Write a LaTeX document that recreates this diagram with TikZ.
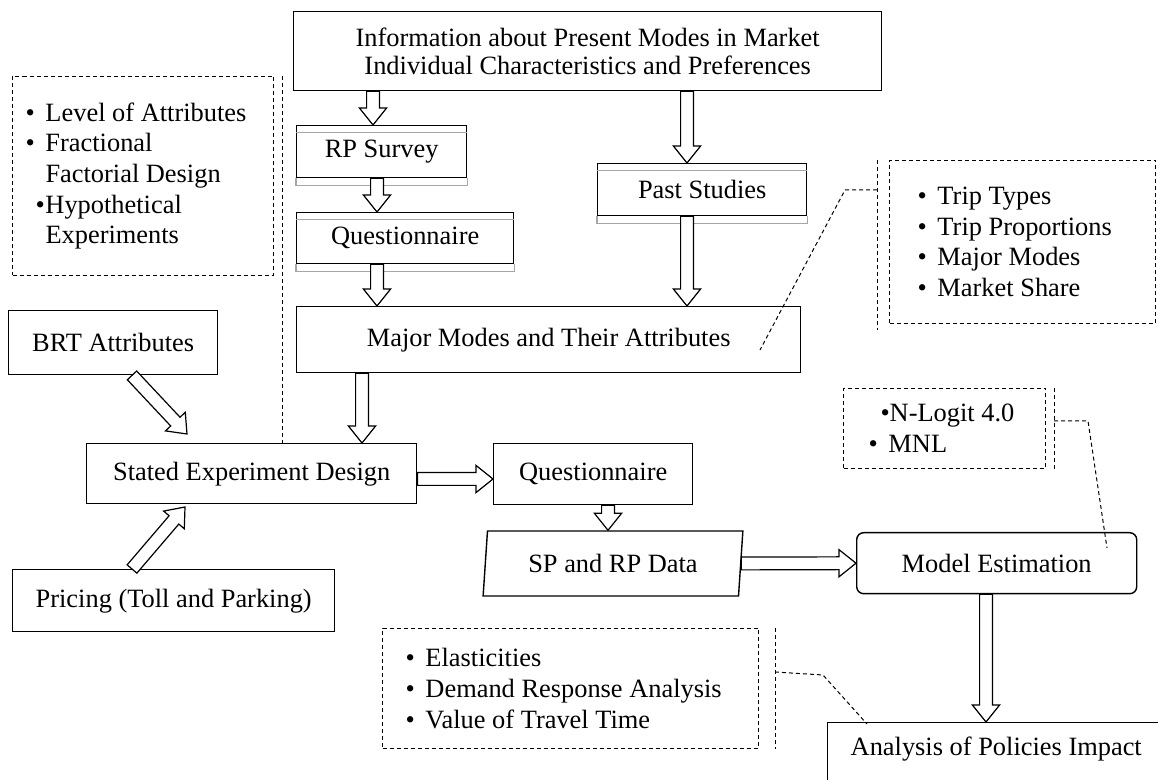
\documentclass[tikz,border=0pt]{standalone}
\usepackage{fontspec}
\setmainfont{Liberation Serif}
\usetikzlibrary{calc, shapes.geometric}
\tikzset{
  box/.style={rectangle, draw, line width=0.7pt, inner sep=0pt,
    align=center, anchor=north west},
  note/.style={rectangle, draw, dash pattern=on 2pt off 1.5pt,
    line width=0.5pt, align=left, anchor=north west, inner ysep=0pt},
  lead/.style={dash pattern=on 2pt off 1.5pt, line width=0.5pt},
  fat/.style={draw, fill=white, line width=0.6pt, line join=miter, to path={
    ($(\tikztostart)!3.2pt!90:(\tikztotarget)$)
    -- ($(\tikztotarget)!8.5pt!(\tikztostart)!3.2pt!90:(\tikztotarget)$)
    -- ($(\tikztotarget)!8.5pt!(\tikztostart)!6.8pt!90:(\tikztotarget)$)
    -- (\tikztotarget)
    -- ($(\tikztotarget)!8.5pt!(\tikztostart)!6.8pt!-90:(\tikztotarget)$)
    -- ($(\tikztotarget)!8.5pt!(\tikztostart)!3.2pt!-90:(\tikztotarget)$)
    -- ($(\tikztostart)!3.2pt!-90:(\tikztotarget)$) -- cycle}},
  every node/.append style={execute at begin node={\spaceskip=0pt\xspaceskip=0pt\relax}},
}
\newcommand{\bul}{\makebox[10pt][l]{\textbullet}}

\begin{document}
\begin{tikzpicture}[x=0.5pt, y=-0.5pt, font=\fontsize{13.2pt}{15.3pt}\selectfont]
  \useasboundingbox (0,0) rectangle (1158,780);

  % Boxes
  \node[box, minimum width=294pt, minimum height=39.5pt, font=\fontsize{13.2pt}{14pt}\selectfont] (info) at (293,11)
    {Information about Present Modes in Market\\Individual Characteristics and Preferences};
  \node[box, minimum width=85pt, minimum height=26pt] (rps) at (296,125) {RP Survey};
  \node[box, minimum width=108.5pt, minimum height=25.5pt] (qa) at (296,212) {Questionnaire};
  \node[box, minimum width=104.5pt, minimum height=26pt] (past) at (597,163) {Past Studies};
  \node[box, minimum width=252pt, minimum height=33pt] (major) at (296,306) {Major Modes and Their Attributes};
  \node[box, minimum width=104.5pt, minimum height=32pt] (brt) at (8,310) {BRT Attributes};
  \node[box, minimum width=165pt, minimum height=30pt] (sed) at (86,443) {Stated Experiment Design};
  \node[box, minimum width=99.5pt, minimum height=30.5pt] (qb) at (493,443) {Questionnaire};
  \node[box, minimum width=161pt, minimum height=31pt] (price) at (12,569) {Pricing (Toll and Parking)};
  \node[box, anchor=center, trapezium, trapezium left angle=81, trapezium right angle=99,
    trapezium stretches=true, minimum width=130pt, minimum height=32.5pt] (sprp) at (613,563.5) {SP and RP Data};
  \node[box, rounded corners=3.5pt, minimum width=140pt, minimum height=30.5pt] (model) at (856,532) {Model Estimation};
  \node[box, align=left, text width=180pt, inner xsep=11.5pt, text height=16.5pt, text depth=40pt] (anal) at (827,722)
    {Analysis of Policies Impact};

  \foreach \n in {rps,qa,past}{
    \draw[gray!70, line width=0.5pt] ([yshift=-4pt]\n.north west) -- ([yshift=-4pt]\n.north east);
    \draw[gray!70, line width=0.7pt] (\n.south west) -- ([yshift=-3.5pt]\n.south west)
      -- ([yshift=-3.5pt]\n.south east) -- (\n.south east);
  }

  % Notes
  \node[note, text width=117.5pt, inner xsep=6.5pt, minimum height=99.5pt] (lbox) at (12,76)
    {\bul Level of Attributes\\ \bul Fractional\\ \hspace*{10pt}Factorial Design\\
     \hspace*{5pt}\makebox[5pt][l]{\textbullet}Hypothetical\\ \hspace*{10pt}Experiments};
  \node[note, text width=105pt, inner xsep=14pt, minimum height=81.5pt] (trip) at (889,160)
    {\bul Trip Types\\ \bul Trip Proportions\\ \bul Major Modes\\ \bul Market Share};
  \node[note, text width=76pt, inner xsep=12.5pt, minimum height=40pt] (nlog) at (843,388)
    {\hspace*{6pt}\textbullet N-Logit 4.0\\ \bul MNL};
  \node[note, text width=165pt, inner xsep=11.5pt, minimum height=60pt] (elast) at (382,628)
    {\bul Elasticities\\ \bul Demand Response Analysis\\ \bul Value of Travel Time};

  % Callout lines
  \coordinate (lcall) at ([xshift=4pt]lbox.north east);
  \coordinate (tcall) at ([xshift=-6pt]trip.north west);
  \coordinate (ncall) at ([xshift=4pt]nlog.north east);
  \coordinate (ecall) at ([xshift=8pt]elast.north east);
  \coordinate (tend) at (760,350);
  \coordinate (nend) at (1107,548);
  \coordinate (eend) at (867,724);
  \draw[lead] (lcall) -- (lcall |- sed.north);
  \draw[lead] (tcall) -- ++(0,170);
  \draw[lead] (tcall) ++(0,30) -- ++(-32,0) -- (tend);
  \draw[lead] (ncall) -- (ncall |- nlog.south);
  \draw[lead] (ncall) ++(0,33) -- ++(34,0) -- (nend);
  \draw[lead] (ecall) -- (ecall |- elast.south);
  \draw[lead] (ecall) ++(0,44) -- ++(48,3) -- (eend);

  % Arrows
  \coordinate (brttip) at (187,434);
  \coordinate (pritip) at (185,507);
  \draw[fat] (373,0 |- info.south) to (373,0 |- rps.north);
  \draw[fat] (377,0 |- rps.south) to (377,0 |- qa.north);
  \draw[fat] (377,0 |- qa.south) to (377,0 |- major.north);
  \draw[fat] (687,0 |- info.south) to (687,0 |- past.north);
  \draw[fat] (687,0 |- past.south) to (687,0 |- major.north);
  \draw[fat] (362,0 |- major.south) to (362,0 |- sed.north);
  \draw[fat] (132,0 |- brt.south) to (brttip);
  \draw[fat] (132,0 |- price.north) to (pritip);
  \draw[fat] (sed.east |- 0,479) to (qb.west |- 0,479);
  \draw[fat] (608,0 |- qb.south) to (608,0 |- sprp.north);
  \draw[fat] (sprp.east) to (model.west);
  \draw[fat] (986,0 |- model.south) to (986,0 |- anal.north);
\end{tikzpicture}
\end{document}
